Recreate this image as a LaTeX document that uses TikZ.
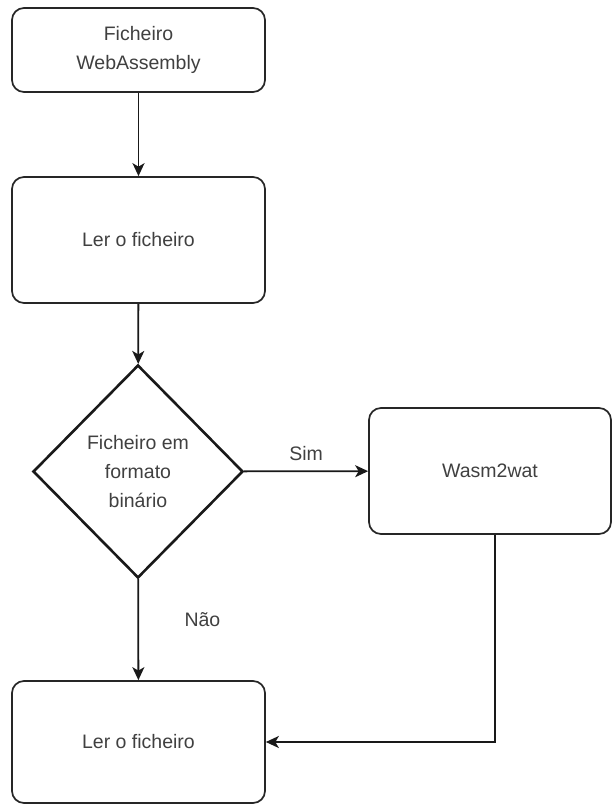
\documentclass[tikz,border=0pt]{standalone}
\usepackage{fontspec}
\setmainfont{Liberation Sans}
\usetikzlibrary{shapes.geometric,arrows.meta}
\begin{document}
\begin{tikzpicture}
        [x=1pt, y=-1pt,
        font=\fontsize{19.5}{29}\selectfont,
        every node/.style={text=black!75, align=center},
        box/.style={draw=black!85, line width=1.7pt, rounded corners=12pt, minimum width=253pt},
        decision/.style={diamond, draw=black!90, line width=2.6pt, inner sep=0pt, minimum width=210pt, minimum height=213pt},
        link/.style={draw=black!90, line width=1.8pt, -{Stealth[length=13pt,width=12pt,inset=3.5pt]}},
        ]
        \useasboundingbox (0,0) rectangle (612,805);
        \node[box, minimum height=84pt] (wasmfile) at (138.5,50) {Ficheiro\\WebAssembly};
        \node[box, minimum height=126pt] (read1) at (138.5,240) {Ler o ficheiro};
        \node[decision] (binary) at (138,471.5) {Ficheiro em\\formato\\binário};
        \node[box, minimum width=242pt, minimum height=126pt] (wasm2wat) at (490,471) {Wasm2wat};
        \node[box, minimum height=122pt] (read2) at (138.5,742) {Ler o ficheiro};
        \draw[link] (wasmfile) -- (read1);
        \draw[link] (read1) -- (binary);
        \draw[link] (binary) -- node[above=6pt] {Sim} (wasm2wat);
        \draw[link] (binary) -- node[right=42pt, pos=0.4] {Não} (read2);
        \draw[link] (wasm2wat.south -| 495,0) |- (read2.east);
\end{tikzpicture}
\end{document}
